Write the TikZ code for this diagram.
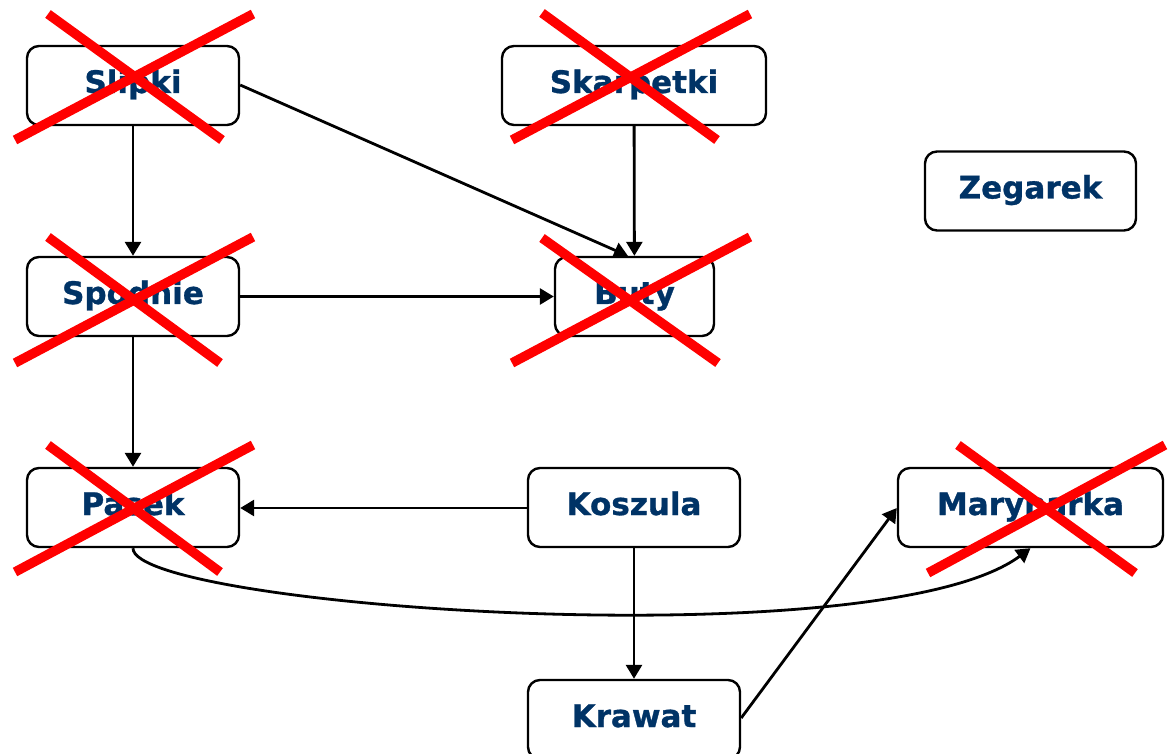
\documentclass[tikz,border=0pt]{standalone}
\usepackage{fontspec}
\setmainfont{DejaVu Sans}[BoldFeatures={FakeBold=1}]
\usetikzlibrary{arrows.meta}
\definecolor{labelblue}{RGB}{0,51,102}
\definecolor{crossred}{RGB}{255,0,0}
\tikzset{
  item/.style={draw=black, line width=2.4pt, rounded corners=12pt, fill=white,
    minimum height=79pt, inner sep=0pt, text height=23pt, text depth=8pt,
    font=\fontsize{31}{36}\selectfont\bfseries, text=labelblue},
  dep/.style={line width=2.8pt, -{Triangle[length=14pt,width=16pt]}},
  cross/.style={draw=crossred, line width=9.5pt}
}
\begin{document}
\begin{tikzpicture}[x=1pt, y=-1pt]
\useasboundingbox (0,0) rectangle (1171,754);
\clip (0,0) rectangle (1171,754);

% garments
\node[item, minimum width=212pt] (slipki)    at (133,85.5)   {Slipki};
\node[item, minimum width=264pt] (skarpetki) at (634,85.5)   {Skarpetki};
\node[item, minimum width=211pt] (zegarek)   at (1030.5,191) {Zegarek};
\node[item, minimum width=212pt] (spodnie)   at (133,296.5)  {Spodnie};
\node[item, minimum width=159pt] (buty)      at (634.5,296.5){Buty};
\node[item, minimum width=212pt] (pasek)     at (133,507.5)  {Pasek};
\node[item, minimum width=212pt] (koszula)   at (634,507.5)  {Koszula};
\node[item, minimum width=265pt] (marynarka) at (1030.5,507.5){Marynarka};
\node[item, minimum width=212pt] (krawat)    at (634,719.5)  {Krawat};

% dressing order
\draw[dep] (slipki) -- (spodnie);
\draw[dep] (slipki.east |- 0,85) -- (628,256);
\draw[dep] (skarpetki) -- (buty);
\draw[dep] (spodnie) -- (buty);
\draw[dep] (spodnie) -- (pasek);
\draw[dep] (koszula.west |- 0,508) -- (pasek.east |- 0,508);
\draw[dep] (koszula) -- (krawat);
\draw[dep] (krawat.east |- 0,718) -- (marynarka.west |- 0,508);
\draw[dep] (pasek.south) .. controls (133,607) and (880,660) .. (marynarka.south);

% items already put on
\draw[cross] (48,14) -- (222,140);   \draw[cross] (15,140) -- (253,14);
\draw[cross] (542,13) -- (717,140);  \draw[cross] (512,140) -- (750,14);
\draw[cross] (48,237) -- (220,363);  \draw[cross] (15,363) -- (253,237);
\draw[cross] (542,238) -- (718,363); \draw[cross] (512,363) -- (750,237);
\draw[cross] (48,445) -- (220,572);  \draw[cross] (15,572) -- (253,445);
\draw[cross] (958,445) -- (1135,573); \draw[cross] (928,573) -- (1165,445);
\end{tikzpicture}
\end{document}
